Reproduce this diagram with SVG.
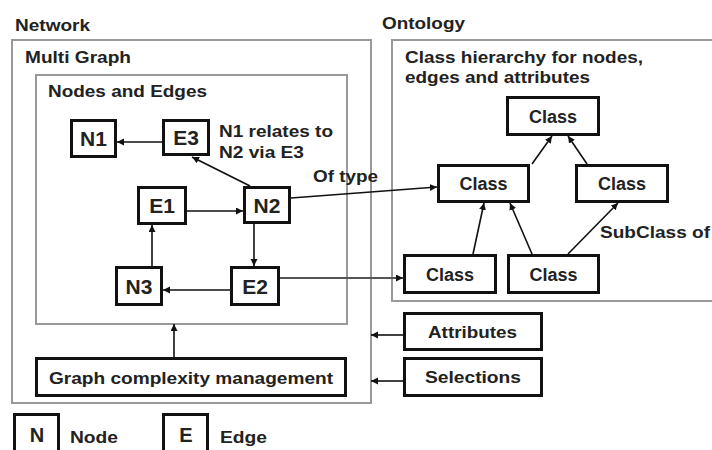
<svg xmlns="http://www.w3.org/2000/svg" width="712" height="450" viewBox="0 0 712 450">
<defs>
<marker id="ah" markerUnits="userSpaceOnUse" markerWidth="8" markerHeight="8" refX="7" refY="3.5" orient="auto">
<path d="M0,0 L7,3.5 L0,7 z" fill="#111"/>
</marker>
<style>
.cont{fill:none;stroke:#999;stroke-width:2}
.box{fill:#fff;stroke:#111;stroke-width:3}
.t{font-family:"Liberation Sans",Arial,sans-serif;font-weight:bold;font-size:17px;fill:#222}
.nl{font-family:"Liberation Sans",Arial,sans-serif;font-weight:bold;font-size:21px;fill:#222;text-anchor:middle}
.cl{font-family:"Liberation Sans",Arial,sans-serif;font-weight:bold;font-size:18px;fill:#222;text-anchor:middle}
.c{fill:none;stroke:#111;stroke-width:1.6;marker-end:url(#ah)}
.cg{fill:none;stroke:#555;stroke-width:2.2;marker-end:url(#ah)}
</style>
</defs>
<rect width="712" height="450" fill="#fff"/>

<g id="network">
<rect class="cont" x="12" y="40" width="359" height="363"/>
<text class="t" x="15" y="31" textLength="75" lengthAdjust="spacingAndGlyphs">Network</text>
<text class="t" x="25" y="63" textLength="106" lengthAdjust="spacingAndGlyphs">Multi Graph</text>
</g>
<g id="nodes-and-edges">
<rect class="cont" x="36" y="75" width="311" height="249"/>
<text class="t" x="48" y="97" textLength="159" lengthAdjust="spacingAndGlyphs">Nodes and Edges</text>
<text class="t" x="219" y="137" textLength="114" lengthAdjust="spacingAndGlyphs">N1 relates to</text>
<text class="t" x="219" y="158" textLength="85" lengthAdjust="spacingAndGlyphs">N2 via E3</text>
</g>
<g id="ontology">
<rect class="cont" x="392" y="40" width="330" height="261"/>
<text class="t" x="382" y="29" textLength="83" lengthAdjust="spacingAndGlyphs">Ontology</text>
<text class="t" x="405" y="63" textLength="238" lengthAdjust="spacingAndGlyphs">Class hierarchy for nodes,</text>
<text class="t" x="405" y="83" textLength="185" lengthAdjust="spacingAndGlyphs">edges and attributes</text>
</g>

<g id="connectors">
<line class="c" x1="163" y1="142" x2="117" y2="142"/>
<line class="c" x1="250" y1="186" x2="192" y2="157"/>
<line class="c" x1="187" y1="211" x2="243" y2="211"/>
<line class="c" x1="254" y1="224" x2="254" y2="266"/>
<line class="c" x1="152" y1="266" x2="152" y2="225"/>
<line class="c" x1="230" y1="290" x2="163" y2="290"/>
<line class="c" x1="291" y1="198" x2="437" y2="187"/>
<line class="cg" x1="280" y1="278" x2="403" y2="278"/>
<line class="c" x1="174" y1="357" x2="174" y2="324"/>
<line class="c" x1="403" y1="335" x2="371" y2="335"/>
<line class="c" x1="403" y1="381" x2="371" y2="381"/>
<line class="c" x1="532" y1="164" x2="552" y2="136"/>
<line class="c" x1="587" y1="164" x2="568" y2="136"/>
<line class="c" x1="473" y1="254" x2="484" y2="203"/>
<line class="c" x1="532" y1="254" x2="510" y2="203"/>
<line class="c" x1="568" y1="254" x2="618" y2="203"/>
<text class="t" x="313" y="182" textLength="65" lengthAdjust="spacingAndGlyphs">Of type</text>
<text class="t" x="600" y="238" textLength="110" lengthAdjust="spacingAndGlyphs">SubClass of</text>
</g>

<g id="N1"><rect class="box" x="71.5" y="120.5" width="44" height="36"/><text class="nl" x="93.5" y="146">N1</text></g>
<g id="E3"><rect class="box" x="163.5" y="120.5" width="45" height="34"/><text class="nl" x="186" y="145">E3</text></g>
<g id="E1"><rect class="box" x="138.5" y="187.5" width="47" height="36"/><text class="nl" x="162" y="213">E1</text></g>
<g id="N2"><rect class="box" x="244.5" y="187.5" width="45" height="35"/><text class="nl" x="267" y="213">N2</text></g>
<g id="N3"><rect class="box" x="116.5" y="267.5" width="45" height="37"/><text class="nl" x="139" y="294">N3</text></g>
<g id="E2"><rect class="box" x="231.5" y="267.5" width="47" height="37"/><text class="nl" x="255" y="294">E2</text></g>

<g id="class-top"><rect class="box" x="507.5" y="97.5" width="91" height="37"/><text class="cl" x="553" y="123">Class</text></g>
<g id="class-mid-left"><rect class="box" x="438.5" y="165.5" width="90" height="36"/><text class="cl" x="483.5" y="190">Class</text></g>
<g id="class-mid-right"><rect class="box" x="576.5" y="165.5" width="91" height="36"/><text class="cl" x="622" y="190">Class</text></g>
<g id="class-bot-left"><rect class="box" x="404.5" y="255.5" width="91" height="37"/><text class="cl" x="450" y="281">Class</text></g>
<g id="class-bot-right"><rect class="box" x="508.5" y="255.5" width="90" height="37"/><text class="cl" x="553.5" y="281">Class</text></g>

<g id="attributes"><rect class="box" x="404.5" y="313.5" width="137" height="36"/><text class="t" x="428" y="338" textLength="89" lengthAdjust="spacingAndGlyphs">Attributes</text></g>
<g id="selections"><rect class="box" x="404.5" y="358.5" width="137" height="37"/><text class="t" x="425" y="383" textLength="96" lengthAdjust="spacingAndGlyphs">Selections</text></g>
<g id="graph-complexity"><rect class="box" x="36.5" y="358.5" width="309" height="37"/><text class="t" x="49" y="384" textLength="284" lengthAdjust="spacingAndGlyphs">Graph complexity management</text></g>

<g id="legend-node"><rect class="box" x="14.5" y="414.5" width="44" height="44"/><text class="nl" x="37" y="442" style="font-size:20px">N</text><text class="t" x="70" y="443" textLength="48" lengthAdjust="spacingAndGlyphs">Node</text></g>
<g id="legend-edge"><rect class="box" x="163.5" y="414.5" width="44" height="44"/><text class="nl" x="186" y="442" style="font-size:20px">E</text><text class="t" x="220" y="443" textLength="47" lengthAdjust="spacingAndGlyphs">Edge</text></g>
</svg>
